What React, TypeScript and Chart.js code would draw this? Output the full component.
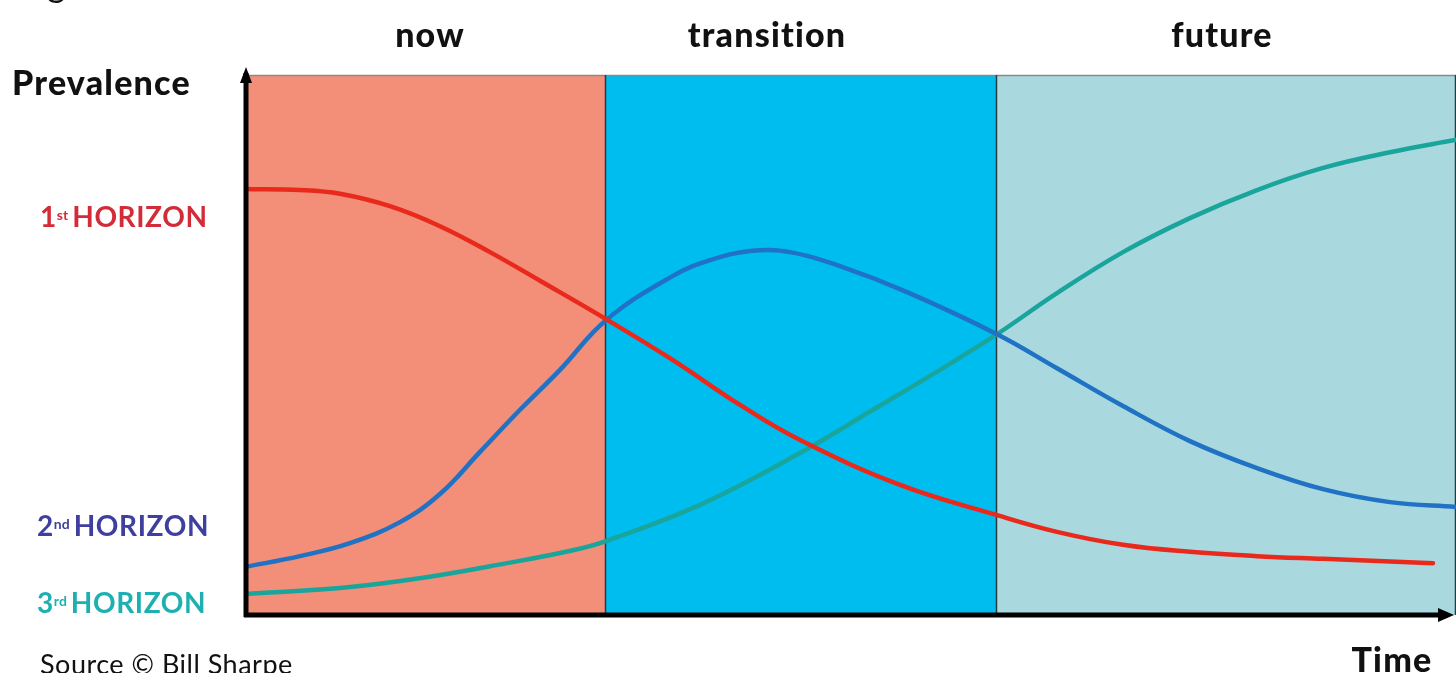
import React, { useEffect, useRef } from "react";
import { Chart, registerables } from "chart.js";
Chart.register(...registerables);

// ---- data ----
const regionNames = ["now", "transition", "future"];
const regionBounds = [0, 29.8, 62.1, 100];
const regionColors = ["#f38e78", "#00bdf0", "#a9d9df"];

const firstHorizonX = [0, 4.54, 7.84, 11.97, 16.1, 20.23, 24.36, 29.81, 35.34, 40.88, 45.83, 54.09, 62.1, 67.05, 72.5, 78.03, 83.57, 89.02, 98.1];
const firstHorizonY = [78.9, 78.7, 78.0, 75.7, 72.0, 67.2, 61.9, 54.8, 47.2, 38.9, 32.4, 24.1, 18.5, 15.4, 13.0, 11.7, 10.9, 10.4, 9.6];

const secondHorizonX = [0, 4.54, 8.67, 12.8, 16.1, 19.41, 22.71, 26.01, 29.81, 35.34, 38.4, 41.7, 45.0, 49.13, 54.67, 62.1, 67.05, 72.5, 78.03, 83.57, 89.02, 94.55, 100];
const secondHorizonY = [8.9, 10.9, 13.3, 17.2, 22.4, 30.2, 38.0, 45.4, 54.6, 62.8, 65.7, 67.4, 67.2, 64.6, 59.8, 52.0, 45.7, 38.7, 32.2, 27.2, 23.3, 20.9, 20.0];

const thirdHorizonX = [0, 7.84, 14.7, 21.63, 27.08, 29.81, 37.57, 45.83, 51.86, 57.39, 62.1, 67.05, 72.5, 78.03, 83.57, 89.02, 94.55, 100];
const thirdHorizonY = [3.9, 5.0, 6.9, 9.6, 12.0, 13.7, 20.4, 30.0, 38.0, 45.4, 52.0, 59.6, 67.2, 73.5, 78.7, 82.8, 85.7, 88.0];

const seriesLabels = ["1st HORIZON", "2nd HORIZON", "3rd HORIZON"];
const seriesColors = ["#e8291c", "#1f72c4", "#1aa59c"];

const toPoints = (xs: number[], ys: number[]) => xs.map((x, i) => ({ x, y: ys[i] }));

const backgroundPlugin = {
  id: "regions",
  beforeDatasetsDraw(chart: any) {
    const { ctx, chartArea, scales } = chart;
    const xs = scales.x;
    ctx.save();
    for (let i = 0; i < regionNames.length; i++) {
      const x0 = xs.getPixelForValue(regionBounds[i]);
      const x1 = xs.getPixelForValue(regionBounds[i + 1]);
      ctx.fillStyle = regionColors[i];
      ctx.fillRect(x0, chartArea.top, x1 - x0, chartArea.bottom - chartArea.top);
    }
    ctx.strokeStyle = "#8a8a8a";
    ctx.lineWidth = 1.5;
    ctx.beginPath();
    ctx.moveTo(chartArea.left, chartArea.top + 0.5);
    ctx.lineTo(chartArea.right, chartArea.top + 0.5);
    ctx.stroke();
    ctx.strokeStyle = "#2a3a40";
    ctx.lineWidth = 1.5;
    for (let i = 1; i < regionBounds.length; i++) {
      const x = Math.round(xs.getPixelForValue(regionBounds[i])) - 0.5;
      ctx.beginPath();
      ctx.moveTo(x, chartArea.top);
      ctx.lineTo(x, chartArea.bottom);
      ctx.stroke();
    }
    ctx.restore();
  },
  afterDatasetsDraw(chart: any) {
    const { ctx, chartArea } = chart;
    ctx.save();
    ctx.strokeStyle = "#000";
    ctx.fillStyle = "#000";
    ctx.lineWidth = 5;
    const ax = chartArea.left + 1;
    const ay = chartArea.bottom;
    ctx.beginPath();
    ctx.moveTo(ax, ay + 2);
    ctx.lineTo(ax, chartArea.top - 2);
    ctx.stroke();
    ctx.beginPath();
    ctx.moveTo(ax, chartArea.top - 8);
    ctx.lineTo(ax - 6, chartArea.top + 8);
    ctx.lineTo(ax + 6, chartArea.top + 8);
    ctx.closePath();
    ctx.fill();
    ctx.beginPath();
    ctx.moveTo(ax - 2, ay);
    ctx.lineTo(chartArea.right - 8, ay);
    ctx.stroke();
    ctx.beginPath();
    ctx.moveTo(chartArea.right - 2, ay);
    ctx.lineTo(chartArea.right - 18, ay - 7);
    ctx.lineTo(chartArea.right - 18, ay + 7);
    ctx.closePath();
    ctx.fill();
    ctx.restore();
  },
};

const boldFont = "Lato, 'DejaVu Sans', sans-serif";

function Sup({ children }: { children: React.ReactNode }) {
  return (
    <span style={{ fontSize: 14, verticalAlign: "top", position: "relative", top: -1, marginRight: 4, letterSpacing: 0 }}>{children}</span>
  );
}

export default function App() {
  const canvasRef = useRef<HTMLCanvasElement | null>(null);

  useEffect(() => {
    if (!canvasRef.current) return;
    const series = [
      toPoints(firstHorizonX, firstHorizonY),
      toPoints(secondHorizonX, secondHorizonY),
      toPoints(thirdHorizonX, thirdHorizonY),
    ];
    const chart = new Chart(canvasRef.current, {
      type: "line",
      data: {
        datasets: series.map((pts, i) => ({
          label: seriesLabels[i],
          data: pts,
          borderColor: seriesColors[i],
          borderWidth: 4.5,
          pointRadius: 0,
          fill: false,
          tension: 0.4,
          borderCapStyle: "round" as const,
        })),
      },
      options: {
        animation: false,
        responsive: false,
        maintainAspectRatio: false,
        layout: { padding: { left: 245, top: 75, right: 0, bottom: 58 } },
        plugins: { legend: { display: false }, tooltip: { enabled: false }, title: { display: false } },
        scales: {
          x: { type: "linear", min: 0, max: 100, display: false },
          y: { type: "linear", min: 0, max: 100, display: false },
        },
      },
      plugins: [backgroundPlugin],
    });
    return () => chart.destroy();
  }, []);

  const heading: React.CSSProperties = {
    position: "absolute",
    fontFamily: boldFont,
    fontWeight: 900,
    fontSize: 34,
    lineHeight: "34px",
    letterSpacing: 1.2,
    color: "#111",
    whiteSpace: "nowrap",
  };
  const hz: React.CSSProperties = {
    position: "absolute",
    fontFamily: boldFont,
    fontWeight: 700,
    fontSize: 28,
    lineHeight: "28px",
    whiteSpace: "nowrap",
    letterSpacing: 0.6,
  };

  return (
    <div style={{ position: "absolute", left: 0, top: 0, width: 1456, height: 673, overflow: "hidden", background: "#fff" }}>
      <canvas ref={canvasRef} width={1456} height={673} style={{ display: "block", position: "absolute", left: 0, top: 0 }} />
      <div style={{ position: "absolute", left: 18, top: -35, fontFamily: "Lato, sans-serif", fontSize: 36, lineHeight: "36px", color: "#111", whiteSpace: "nowrap" }}>
        Figure 1: The Three Horizons
      </div>
      <div style={{ ...heading, left: 12, top: 65 }}>Prevalence</div>
      <div style={{ ...heading, left: 430, top: 17, transform: "translateX(-50%)" }}>{regionNames[0]}</div>
      <div style={{ ...heading, left: 767, top: 17, transform: "translateX(-50%)" }}>{regionNames[1]}</div>
      <div style={{ ...heading, left: 1222, top: 17, transform: "translateX(-50%)" }}>{regionNames[2]}</div>
      <div style={{ ...heading, left: 1392, top: 642, transform: "translateX(-50%)" }}>Time</div>
      <div style={{ ...hz, left: 40, top: 202, color: "#d42b38" }}>
        1<Sup>st</Sup>HORIZON
      </div>
      <div style={{ ...hz, left: 37, top: 511, color: "#3e3f9e" }}>
        2<Sup>nd</Sup>HORIZON
      </div>
      <div style={{ ...hz, left: 37, top: 588, color: "#1eb0b0" }}>
        3<Sup>rd</Sup>HORIZON
      </div>
      <div style={{ position: "absolute", left: 40, top: 650, fontFamily: "Lato, sans-serif", fontSize: 27, lineHeight: "28px", letterSpacing: 0.5, color: "#111", whiteSpace: "nowrap" }}>
        Source © Bill Sharpe
      </div>
    </div>
  );
}
